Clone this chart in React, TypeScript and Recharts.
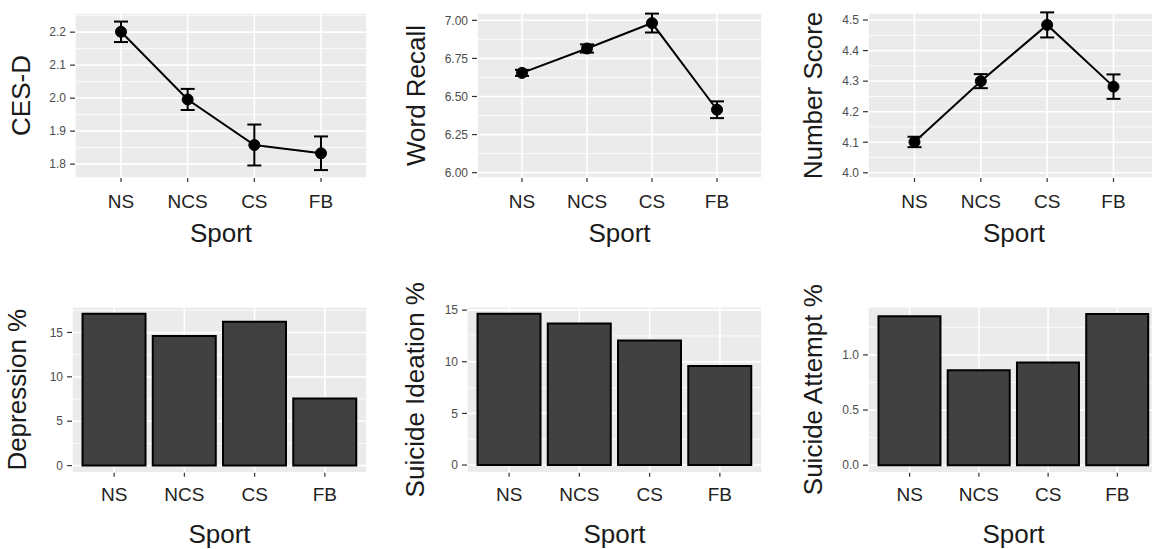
import React from 'react'
import {
    LineChart, Line, BarChart, Bar, XAxis, YAxis, CartesianGrid,
    ErrorBar, Label
} from 'recharts'

// categories
const sports = ['NS', 'NCS', 'CS', 'FB']

// top row: means and error bar half widths
const cesdMean = [2.201, 1.996, 1.858, 1.833]
const cesdErr = [0.031, 0.032, 0.062, 0.051]
const wordMean = [6.655, 6.815, 6.982, 6.413]
const wordErr = [0.02, 0.027, 0.062, 0.055]
const numberMean = [4.101, 4.3, 4.484, 4.282]
const numberErr = [0.017, 0.023, 0.041, 0.04]

// bottom row: percentages
const depressionPct = [17.1, 14.6, 16.2, 7.55]
const ideationPct = [14.65, 13.7, 12.05, 9.6]
const attemptPct = [1.35, 0.86, 0.93, 1.37]

// tick labels and minor grid values
const cesdTicks = [1.8, 1.9, 2.0, 2.1, 2.2]
const cesdMinor = [1.85, 1.95, 2.05, 2.15, 2.25]
const wordTicks = [6.0, 6.25, 6.5, 6.75, 7.0]
const wordMinor = [6.125, 6.375, 6.625, 6.875]
const numberTicks = [4.0, 4.1, 4.2, 4.3, 4.4, 4.5]
const numberMinor = [4.05, 4.15, 4.25, 4.35, 4.45]
const pctTicks = [0, 5, 10, 15]
const pctMinor = [2.5, 7.5, 12.5, 17.5]
const attemptTicks = [0, 0.5, 1.0]
const attemptMinor = [0.25, 0.75, 1.25]

const FONT = '"Liberation Sans", Arial, Helvetica, sans-serif'

const yTitle = (text: string, dx: number) => (props: any) => {
    const vb = props.viewBox
    const cx = vb.x + dx
    const cy = vb.y + vb.height / 2
    return (
        <text x={cx} y={cy} transform={`rotate(-90 ${cx} ${cy})`} textAnchor="middle"
            dominantBaseline="central" fontSize={26} fill="#1a1a1a" fontFamily={FONT}>{text}</text>
    )
}

const xTitle = (text: string, dy: number) => (props: any) => {
    const vb = props.viewBox
    return (
        <text x={vb.x + vb.width / 2} y={vb.y + dy} textAnchor="middle" fontSize={26}
            fill="#1a1a1a" fontFamily={FONT}>{text}</text>
    )
}

const LinePanel = ({ left, top, width, yw, mr, pad, domain, ticks, minor, digits, title, tdx, mean, err }: any) => {
    const data = sports.map((s, i) => ({ sport: s, mean: mean[i], err: err[i] }))
    return (
        <div style={{ position: 'absolute', left, top }}>
            <LineChart width={width} height={260} data={data} margin={{ top: 13, right: mr, left: 0, bottom: 0 }}>
                <CartesianGrid fill="#ebebeb" stroke="#ffffff" strokeWidth={1.6} />
                <CartesianGrid vertical={false} stroke="#ffffff" strokeWidth={0.8} fill="none"
                    horizontalValues={minor} />
                <XAxis dataKey="sport" height={82} padding={{ left: pad, right: pad }} axisLine={false}
                    tickSize={4} tickMargin={12.5} tickLine={{ stroke: '#333', strokeWidth: 1.2 }}
                    tick={{ fontSize: 19, fill: '#222', fontFamily: FONT }} interval={0}>
                    <Label content={xTitle('Sport', 64)} />
                </XAxis>
                <YAxis width={yw} domain={domain} allowDataOverflow ticks={ticks} interval={0} axisLine={false}
                    tickSize={5} tickMargin={4} tickLine={{ stroke: '#333', strokeWidth: 1.2 }}
                    tick={{ fontSize: 12, fill: '#4d4d4d', fontFamily: FONT }}
                    tickFormatter={(v: number) => v.toFixed(digits)}>
                    <Label content={yTitle(title, tdx)} />
                </YAxis>
                <Line type="linear" dataKey="mean" stroke="#000" strokeWidth={2}
                    dot={{ r: 5.5, fill: '#000', stroke: '#000', strokeWidth: 1 }} activeDot={false}
                    isAnimationActive={false}>
                    <ErrorBar dataKey="err" direction="y" width={7} stroke="#000" strokeWidth={2} isAnimationActive={false} />
                </Line>
            </LineChart>
        </div>
    )
}

const BarPanel = ({ left, width, yw, mr, pad, domain, ticks, minor, digits, title, tdx, values }: any) => {
    const data = sports.map((s, i) => ({ sport: s, pct: values[i] }))
    return (
        <div style={{ position: 'absolute', left, top: 280 }}>
            <BarChart width={width} height={269} data={data} barCategoryGap="5%"
                margin={{ top: 26.7, right: mr, left: 0, bottom: 0 }}>
                <CartesianGrid fill="#ebebeb" stroke="#ffffff" strokeWidth={1.6} />
                <CartesianGrid vertical={false} stroke="#ffffff" strokeWidth={0.8} fill="none"
                    horizontalValues={minor} />
                <XAxis dataKey="sport" height={76.3} padding={{ left: pad, right: pad }} axisLine={false}
                    tickSize={4} tickMargin={11} tickLine={{ stroke: '#333', strokeWidth: 1.2 }}
                    tick={{ fontSize: 19, fill: '#222', fontFamily: FONT }} interval={0}>
                    <Label content={xTitle('Sport', 70)} />
                </XAxis>
                <YAxis width={yw} domain={domain} allowDataOverflow ticks={ticks} interval={0} axisLine={false}
                    tickSize={5} tickMargin={4} tickLine={{ stroke: '#333', strokeWidth: 1.2 }}
                    tick={{ fontSize: 12, fill: '#4d4d4d', fontFamily: FONT }}
                    tickFormatter={(v: number) => v.toFixed(digits)}>
                    <Label content={yTitle(title, tdx)} />
                </YAxis>
                <Bar dataKey="pct" fill="#414141" stroke="#000" strokeWidth={2} isAnimationActive={false} />
            </BarChart>
        </div>
    )
}

export default function App() {
    return (
        <div style={{
            position: 'fixed', left: 0, top: 0, width: 1152, height: 549,
            overflow: 'hidden', background: '#fff', fontFamily: FONT
        }}>
            <LinePanel left={0} top={0} width={384} yw={75} mr={17} pad={46}
                domain={[1.758, 2.258]} ticks={cesdTicks} minor={cesdMinor} digits={1}
                title="CES-D" tdx={21} mean={cesdMean} err={cesdErr} />
            <LinePanel left={384} top={0} width={384} yw={93} mr={6} pad={45}
                domain={[5.965, 7.048]} ticks={wordTicks} minor={wordMinor} digits={2}
                title="Word Recall" tdx={32} mean={wordMean} err={wordErr} />
            <LinePanel left={768} top={0} width={392} yw={100} mr={0} pad={46.5}
                domain={[3.983, 4.523]} ticks={numberTicks} minor={numberMinor} digits={1}
                title="Number Score" tdx={45} mean={numberMean} err={numberErr} />

            <BarPanel left={0} width={384} yw={72} mr={17} pad={7}
                domain={[-0.8, 17.9]} ticks={pctTicks} minor={pctMinor} digits={0}
                title="Depression %" tdx={17} values={depressionPct} />
            <BarPanel left={384} width={384} yw={83} mr={6} pad={7}
                domain={[-0.74, 15.33]} ticks={pctTicks} minor={pctMinor} digits={0}
                title="Suicide Ideation %" tdx={31} values={ideationPct} />
            <BarPanel left={768} width={391} yw={100} mr={0} pad={7}
                domain={[-0.068, 1.437]} ticks={attemptTicks} minor={attemptMinor} digits={1}
                title="Suicide Attempt %" tdx={45} values={attemptPct} />
        </div>
    )
}
